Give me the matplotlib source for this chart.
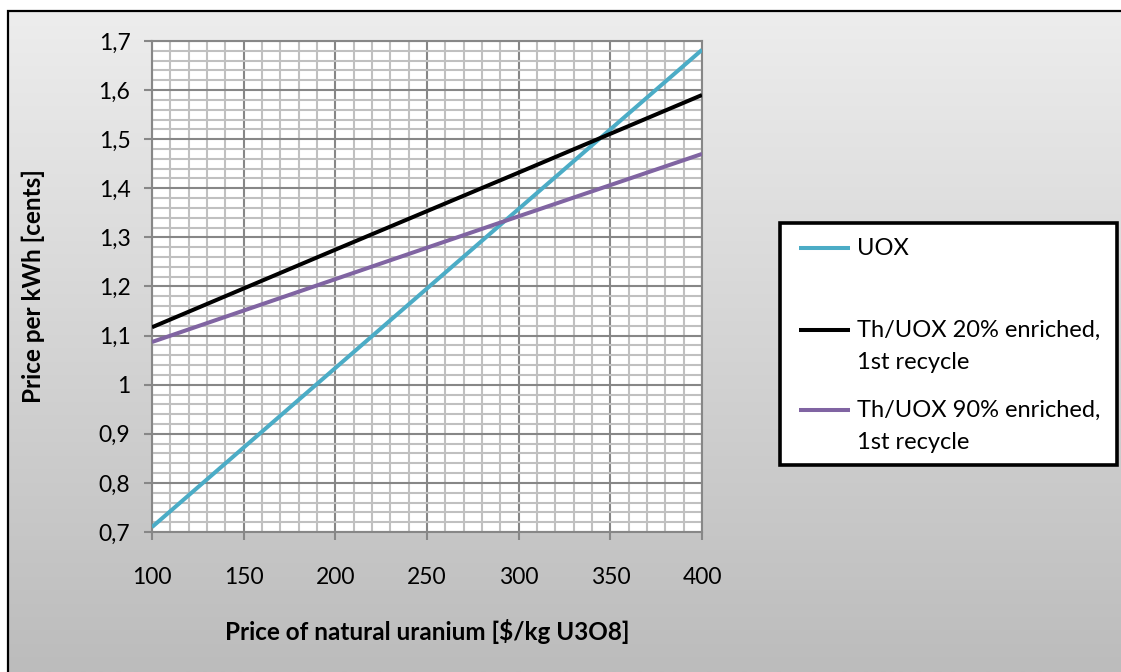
import numpy as np
import matplotlib
matplotlib.use("Agg")
import matplotlib.pyplot as plt
from matplotlib.lines import Line2D
from matplotlib.patches import Rectangle
from matplotlib.ticker import MultipleLocator, FuncFormatter

plt.rcParams['font.family'] = ['Lato', 'DejaVu Sans']

# Uranium price [$/kg U3O8] and resulting electricity price [cents/kWh]
uranium_price = [100, 200, 300, 400]
series_names = ["UOX",
                "Th/UOX 20% enriched,\n1st recycle",
                "Th/UOX 90% enriched,\n1st recycle"]
uox = [0.710, 1.034, 1.358, 1.682]
th_uox_20 = [1.117, 1.275, 1.432, 1.590]
th_uox_90 = [1.087, 1.215, 1.343, 1.470]
series_values = [uox, th_uox_20, th_uox_90]
series_colors = ["#4bacc6", "#000000", "#8064a2"]

x_label = "Price of natural uranium [$/kg U3O8]"
y_label = "Price per kWh [cents]"

W, H = 1121, 672
fig = plt.figure(figsize=(W / 100, H / 100), dpi=100)
fig.patch.set_facecolor("white")


def fx(px):
    return px / W


def fy(py):
    return 1 - py / H


# Chart area with a vertical grey gradient
x0, y0 = 8, 11
bg = fig.add_axes([fx(x0), 0, 1 - fx(x0), fy(y0)], zorder=-10)
grad = np.linspace(0, 1, 256).reshape(-1, 1)
top_c = np.array([0xed, 0xed, 0xed]) / 255
bot_c = np.array([0xbc, 0xbc, 0xbc]) / 255
img = top_c[None, None, :] * (1 - grad[:, :, None]) + bot_c[None, None, :] * grad[:, :, None]
bg.imshow(img, aspect="auto", extent=[0, 1, 0, 1], interpolation="bilinear")
bg.set_axis_off()
fig.add_artist(Rectangle((fx(x0), -0.05), 1.2, fy(y0) + 0.05, transform=fig.transFigure,
                         fill=False, edgecolor="black", linewidth=1.6, zorder=5))

# Plot area
L, R, T, B = 152, 702, 41, 532
ax = fig.add_axes([fx(L), fy(B), fx(R) - fx(L), fy(T) - fy(B)])
ax.set_facecolor("white")

for vals, color, name in zip(series_values, series_colors, series_names):
    ax.plot(uranium_price, vals, color=color, linewidth=2.9, solid_capstyle="butt",
            label=name, zorder=3)

ax.set_xlim(100, 400)
ax.set_ylim(0.7, 1.7)
ax.xaxis.set_major_locator(MultipleLocator(50))
ax.xaxis.set_minor_locator(MultipleLocator(10))
ax.yaxis.set_major_locator(MultipleLocator(0.1))
ax.yaxis.set_minor_locator(MultipleLocator(0.02))


def comma_fmt(v, pos):
    if abs(v - round(v)) < 1e-9:
        return f"{int(round(v))}"
    return f"{v:.1f}".replace(".", ",")


ax.yaxis.set_major_formatter(FuncFormatter(comma_fmt))

major_c = "#878787"
minor_c = "#c0c0c0"
ax.grid(which="minor", color=minor_c, linewidth=1.5, zorder=0)
ax.grid(which="major", color=major_c, linewidth=1.5, zorder=1)
ax.set_axisbelow(True)
for s in ax.spines.values():
    s.set_color(major_c)
    s.set_linewidth(1.5)

ax.tick_params(which="major", direction="out", length=5.5, width=1.5, color=major_c,
               labelsize=16.5, labelcolor="black")
ax.tick_params(axis="x", which="major", pad=20)
ax.tick_params(axis="y", which="major", pad=10)
ax.tick_params(which="minor", length=0)

ax.set_xlabel(x_label, fontsize=17.5, fontweight="bold", va="center")
ax.xaxis.set_label_coords(0.5, (B - 632) / (B - T))
ax.set_ylabel(y_label, fontsize=17.5, fontweight="bold", va="center")
ax.yaxis.set_label_coords((33 - L) / (R - L), 0.5)

# Legend box, one entry per series
lx0, ly0, lx1, ly1 = 780, 223, 1117, 465
fig.add_artist(Rectangle((fx(lx0), fy(ly1)), fx(lx1) - fx(lx0), fy(ly0) - fy(ly1),
                         transform=fig.transFigure, facecolor="white", edgecolor="black",
                         linewidth=2.6, zorder=6))
entry_y = [248, 330, 410]
line_step = 32
for ey, color, name in zip(entry_y, series_colors, series_names):
    fig.add_artist(Line2D([fx(799), fx(850)], [fy(ey), fy(ey)], transform=fig.transFigure,
                          color=color, linewidth=2.9, solid_capstyle="butt", zorder=7))
    for k, line in enumerate(name.split("\n")):
        fig.text(fx(857), fy(ey + 7 + line_step * k), line, fontsize=17,
                 va="baseline", ha="left", zorder=7)

fig.savefig("out.png", dpi=100)
